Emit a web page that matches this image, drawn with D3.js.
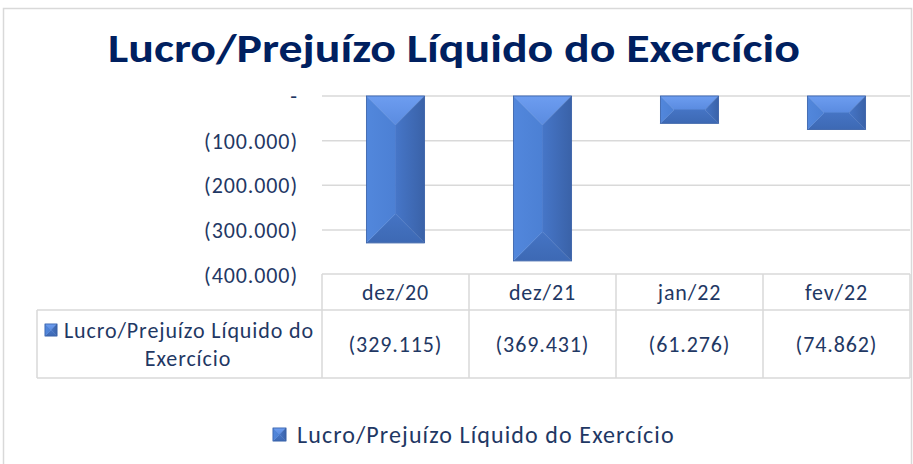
<!DOCTYPE html>
<html>
<head>
<meta charset="utf-8">
<script src="https://cdn.jsdelivr.net/npm/d3@7.9.0/dist/d3.min.js"></script>
<style>
  body { margin: 0; background: #fff; }
  svg { display: block; font-family: Carlito, Calibri, Lato, sans-serif; }
</style>
</head>
<body>
<svg id="chart" width="913" height="464"></svg>
<script>
const title = 'Lucro/Prejuízo Líquido do Exercício';
const seriesName = 'Lucro/Prejuízo Líquido do Exercício';
const categories = ['dez/20', 'dez/21', 'jan/22', 'fev/22'];
const values = [-329115, -369431, -61276, -74862];
const yTicks = [0, -100000, -200000, -300000, -400000];

const svg = d3.select('#chart');

const navy = '#1f3864';
const lineGray = '#d9d9d9';

// chart frame
svg.append('rect')
    .attr('x', 3.5).attr('y', 8.5)
    .attr('width', 908).attr('height', 480)
    .attr('fill', 'none')
    .attr('stroke', lineGray)
    .attr('stroke-width', 1.5);

svg.append('text')
    .attr('x', 454).attr('y', 62)
    .attr('text-anchor', 'middle')
    .attr('font-size', 40)
    .attr('font-weight', 'bold')
    .attr('fill', '#002060')
    .attr('textLength', 692)
    .attr('lengthAdjust', 'spacingAndGlyphs')
    .text(title);

// scales
const x = d3.scaleBand()
    .domain(categories)
    .range([322, 910])
    .paddingInner(0.605)
    .paddingOuter(0.3025);

const y = d3.scaleLinear()
    .domain([-400000, 0])
    .range([274.5, 96]);

const fmtNum = d3.formatLocale({ decimal: ',', thousands: '.', grouping: [3], currency: ['R$', ''] }).format(',d');
const fmt = v => v === 0 ? '-' : (v < 0 ? `(${fmtNum(-v)})` : fmtNum(v));

// gridlines
svg.append('g')
    .selectAll('line')
    .data(yTicks.slice(0, -1))
    .join('line')
    .attr('x1', 322).attr('x2', 910)
    .attr('y1', d => y(d)).attr('y2', d => y(d))
    .attr('stroke', lineGray)
    .attr('stroke-width', 1.5);

// y axis labels
const yAxis = svg.append('g')
    .attr('transform', 'translate(298,0)')
    .call(d3.axisLeft(y).tickValues(yTicks).tickFormat(fmt).tickSize(0).tickPadding(0));
yAxis.select('.domain').remove();
yAxis.selectAll('text')
    .attr('font-size', 22)
    .attr('letter-spacing', 0.9)
    .attr('font-family', 'Carlito, Calibri, Lato, sans-serif')
    .attr('fill', navy)
    .attr('dy', '0.35em');

// gradients for bevel faces
const defs = svg.append('defs');
function grad(id, x2, y2, c1, c2) {
    const g = defs.append('linearGradient').attr('id', id)
        .attr('x1', 0).attr('y1', 0).attr('x2', x2).attr('y2', y2);
    g.append('stop').attr('offset', '0%').attr('stop-color', c1);
    g.append('stop').attr('offset', '100%').attr('stop-color', c2);
}
grad('gTop', 0, 1, '#6d9df0', '#5a8be0');
grad('gLeft', 1, 0, '#5287dc', '#4c80d4');
grad('gRight', 1, 0, '#4676c8', '#3a62a8');
grad('gBot', 0, 1, '#4574c4', '#3d69b4');

function bevelBar(g, x0, y0, x1, y1) {
    const w = x1 - x0, h = y1 - y0;
    const b = Math.min(w / 2, h / 2);
    const faces = [
        ['url(#gTop)', [[x0, y0], [x1, y0], [x1 - b, y0 + b], [x0 + b, y0 + b]]],
        ['url(#gBot)', [[x0, y1], [x1, y1], [x1 - b, y1 - b], [x0 + b, y1 - b]]],
        ['url(#gLeft)', [[x0, y0], [x0 + b, y0 + b], [x0 + b, y1 - b], [x0, y1]]],
        ['url(#gRight)', [[x1, y0], [x1 - b, y0 + b], [x1 - b, y1 - b], [x1, y1]]],
        ['#4b7cce', [[x0 + b, y0 + b], [x1 - b, y0 + b], [x1 - b, y1 - b], [x0 + b, y1 - b]]]
    ];
    faces.forEach(([fill, pts]) => {
        g.append('polygon')
            .attr('points', pts.map(p => p.join(',')).join(' '))
            .attr('fill', fill)
            .attr('stroke', fill)
            .attr('stroke-width', 0.4);
    });
    g.append('rect')
        .attr('x', x0).attr('y', y0)
        .attr('width', w).attr('height', h)
        .attr('fill', 'none')
        .attr('stroke', '#3a62a8')
        .attr('stroke-width', 0.8);
}

const bars = svg.append('g');
categories.forEach((c, i) => {
    const g = bars.append('g');
    bevelBar(g, x(c), y(0), x(c) + x.bandwidth(), y(values[i]));
});

// data table
const step = x.step();
const left = x.range()[0];
const right = x.range()[1];
const tTop = 274, tMid = 310, tBot = 378, tLeft = 37;
const table = svg.append('g')
    .attr('stroke', lineGray)
    .attr('stroke-width', 1.5);
table.append('line').attr('x1', left).attr('x2', right).attr('y1', tTop).attr('y2', tTop);
table.append('line').attr('x1', tLeft).attr('x2', right).attr('y1', tMid).attr('y2', tMid);
table.append('line').attr('x1', tLeft).attr('x2', right).attr('y1', tBot).attr('y2', tBot);
table.append('line').attr('x1', tLeft).attr('x2', tLeft).attr('y1', tMid).attr('y2', tBot);
d3.range(categories.length + 1).forEach(i => {
    table.append('line')
        .attr('x1', left + i * step).attr('x2', left + i * step)
        .attr('y1', tTop).attr('y2', tBot);
});

svg.append('g')
    .selectAll('text')
    .data(categories)
    .join('text')
    .attr('x', d => x(d) + x.bandwidth() / 2)
    .attr('y', (tTop + tMid) / 2)
    .attr('dy', '0.35em')
    .attr('text-anchor', 'middle')
    .attr('font-size', 22)
    .attr('letter-spacing', 0.9)
    .attr('fill', navy)
    .text(d => d);

svg.append('g')
    .selectAll('text')
    .data(values)
    .join('text')
    .attr('x', (d, i) => x(categories[i]) + x.bandwidth() / 2)
    .attr('y', (tMid + tBot) / 2)
    .attr('dy', '0.35em')
    .attr('text-anchor', 'middle')
    .attr('font-size', 22)
    .attr('letter-spacing', 0.9)
    .attr('fill', navy)
    .text(d => fmt(d));

// series label in table
const cellCx = (tLeft + left) / 2;
const words = seriesName.split(' ');
const line1 = words.slice(0, -1).join(' ');
const line2 = words[words.length - 1];
const l1 = svg.append('text')
    .attr('x', 189).attr('y', 330)
    .attr('dy', '0.35em')
    .attr('text-anchor', 'middle')
    .attr('font-size', 22)
    .attr('letter-spacing', 0.9)
    .attr('fill', navy)
    .text(line1);
svg.append('text')
    .attr('x', 188).attr('y', 358)
    .attr('dy', '0.35em')
    .attr('text-anchor', 'middle')
    .attr('font-size', 22)
    .attr('letter-spacing', 0.9)
    .attr('fill', navy)
    .text(line2);
bevelBar(svg.append('g'), 45, 324, 57, 336);

// bottom legend
svg.append('text')
    .attr('x', 297).attr('y', 435)
    .attr('dy', '0.35em')
    .attr('font-size', 24)
    .attr('letter-spacing', 1.1)
    .attr('fill', navy)
    .text(seriesName);
bevelBar(svg.append('g'), 273, 428, 286, 441);
</script>
</body>
</html>
